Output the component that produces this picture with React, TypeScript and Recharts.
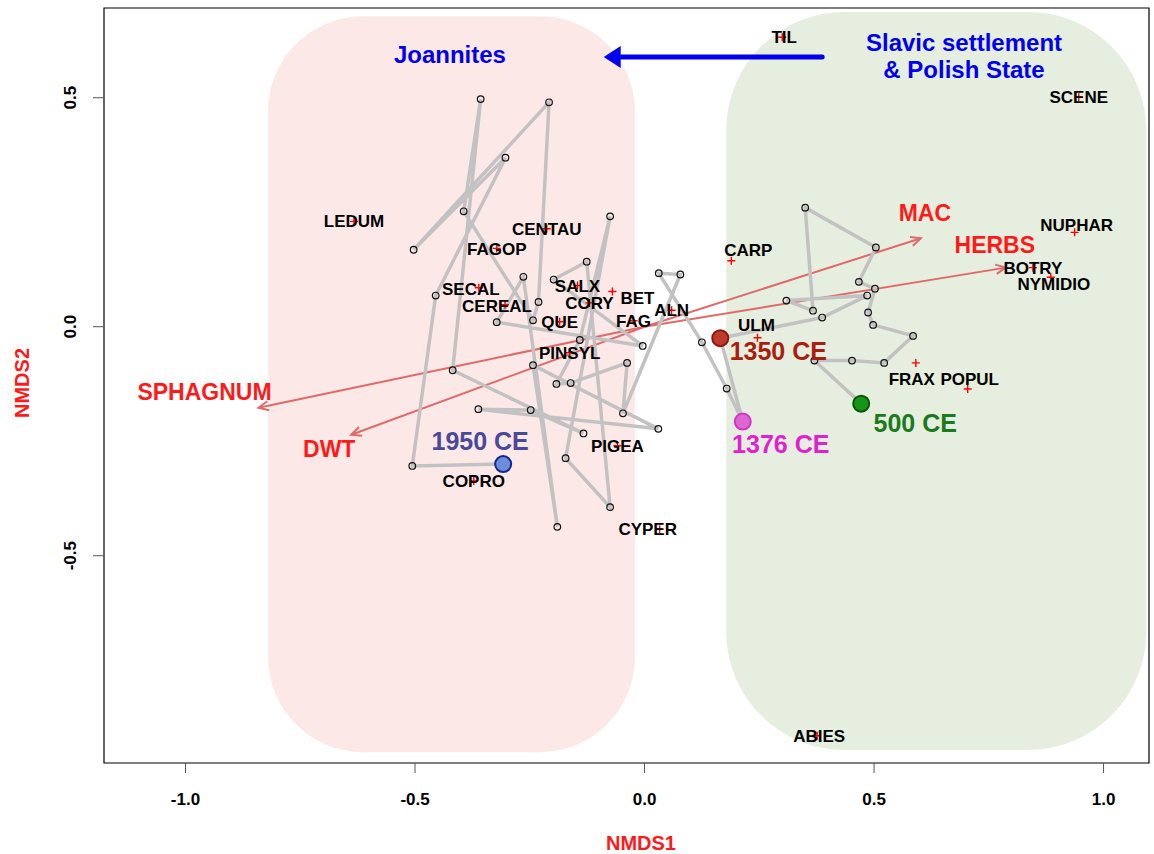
import { ScatterChart, Scatter, XAxis, YAxis, ReferenceArea, ReferenceLine } from 'recharts'

const xTicks = [-1.0, -0.5, 0.0, 0.5, 1.0]
const yTicks = [-0.5, 0.0, 0.5]
const xDomain: [number, number] = [-1.1776, 1.099]
const yDomain: [number, number] = [-0.9526, 0.6959]

// site scores in time order, 500 CE -> 1950 CE
const trajectory: [number, number][] = [
  [0.472, -0.168], [0.370, -0.074], [0.452, -0.074], [0.522, -0.079], [0.585, -0.020],
  [0.498, 0.004], [0.487, 0.031], [0.502, 0.083], [0.467, 0.098], [0.504, 0.173],
  [0.350, 0.260], [0.367, 0.035], [0.309, 0.057], [0.485, 0.068], [0.387, 0.020],
  [0.165, -0.025], [0.214, -0.207], [0.179, -0.135], [0.125, -0.034], [0.031, 0.117],
  [0.078, 0.114], [-0.047, -0.189], [-0.038, -0.079], [-0.161, -0.123], [-0.192, -0.125],
  [-0.141, -0.029], [-0.075, 0.241], [-0.172, -0.287], [-0.075, -0.394], [-0.126, 0.142],
  [-0.198, 0.103], [-0.004, -0.042], [-0.322, 0.010], [-0.264, 0.109], [-0.190, -0.437],
  [-0.243, -0.084], [0.030, -0.223], [-0.362, -0.180], [-0.248, -0.182], [-0.133, -0.233],
  [-0.418, -0.095], [-0.357, 0.497], [-0.394, 0.252], [-0.243, 0.014], [-0.231, 0.054],
  [-0.208, 0.490], [-0.503, 0.168], [-0.303, 0.369], [-0.455, 0.068], [-0.506, -0.304],
  [-0.308, -0.300],
]

const events = [
  { name: '500 CE', x: 0.472, y: -0.168 },
  { name: '1350 CE', x: 0.165, y: -0.025 },
  { name: '1376 CE', x: 0.214, y: -0.207 },
  { name: '1950 CE', x: -0.308, y: -0.300 },
]

const species = [
  { name: 'TIL', x: 0.300, y: 0.632 },
  { name: 'SCENE', x: 0.946, y: 0.501 },
  { name: 'LEDUM', x: -0.633, y: 0.230 },
  { name: 'CENTAU', x: -0.213, y: 0.214 },
  { name: 'FAGOP', x: -0.322, y: 0.171 },
  { name: 'SECAL', x: -0.361, y: 0.085 },
  { name: 'CEREAL', x: -0.304, y: 0.048 },
  { name: 'SALX', x: -0.146, y: 0.090 },
  { name: 'CORY', x: -0.120, y: 0.052 },
  { name: 'BET', x: -0.070, y: 0.077 },
  { name: 'ALN', x: 0.059, y: 0.036 },
  { name: 'FAG', x: -0.024, y: 0.013 },
  { name: 'QUE', x: -0.185, y: 0.011 },
  { name: 'PINSYL', x: -0.163, y: -0.057 },
  { name: 'PIGEA', x: -0.059, y: -0.260 },
  { name: 'COPRO', x: -0.372, y: -0.337 },
  { name: 'CYPER', x: 0.033, y: -0.442 },
  { name: 'CARP', x: 0.189, y: 0.144 },
  { name: 'ULM', x: 0.246, y: -0.024 },
  { name: 'FRAX', x: 0.591, y: -0.079 },
  { name: 'POPUL', x: 0.704, y: -0.136 },
  { name: 'NUPHAR', x: 0.937, y: 0.206 },
  { name: 'BOTRY', x: 0.846, y: 0.129 },
  { name: 'NYMIDIO', x: 0.885, y: 0.108 },
  { name: 'ABIES', x: 0.376, y: -0.893 },
]

// fitted environmental vectors
const envVectors = [
  { name: 'MAC', x: 0.602, y: 0.193 },
  { name: 'HERBS', x: 0.787, y: 0.129 },
  { name: 'SPHAGNUM', x: -0.841, y: -0.177 },
  { name: 'DWT', x: -0.639, y: -0.236 },
]

const periods = [
  { name: 'Joannites', x1: -0.820, x2: -0.021, y1: -0.929, y2: 0.678 },
  { name: 'Slavic settlement & Polish State', x1: 0.178, x2: 1.093, y1: -0.924, y2: 0.687 },
]

const notes = [
  { text: 'Joannites', x: -0.424, y: 0.595 },
  { text: 'Slavic settlement', x: 0.696, y: 0.621 },
  { text: '& Polish State', x: 0.696, y: 0.562 },
]
const transitionArrow = [{ x: 0.387, y: 0.589 }, { x: -0.089, y: 0.589 }]

const FONT = '"Liberation Sans", Arial, Helvetica, sans-serif'
const periodFill = ['#fce9e7', '#e6eedf']
const periodRadius = [95, 118]

const speciesOffset: Record<string, [number, number]> = {
  TIL: [2, 0], CARP: [17, -11], ULM: [-1, -13], FRAX: [-4, 16], POPUL: [2, -10],
  NUPHAR: [2, -7], NYMIDIO: [3, 7], CYPER: [-12, 0], SECAL: [-8, 1], CEREAL: [-8, 1],
  BET: [25, 6], ABIES: [2, 0],
}
const vectorOffset: Record<string, [number, number]> = {
  MAC: [4, -26], HERBS: [-11, -23], SPHAGNUM: [-54, -16], DWT: [-22, 14],
}
const eventStyle: Record<string, { fill: string; stroke: string; text: string; dx: number; dy: number }> = {
  '500 CE': { fill: '#169616', stroke: '#075807', text: '#1b7a1b', dx: 54, dy: 19 },
  '1350 CE': { fill: '#bf3a2c', stroke: '#8a1a10', text: '#a81f10', dx: 58, dy: 13 },
  '1376 CE': { fill: '#dc66d2', stroke: '#d633c8', text: '#e021d0', dx: 38, dy: 22 },
  '1950 CE': { fill: '#6a8edc', stroke: '#16268a', text: '#4a4898', dx: -23, dy: -23 },
}

const XTick = ({ x, y, payload }: any) => (
  <text x={x} y={y + 32} textAnchor="middle" fontFamily={FONT} fontWeight="bold" fontSize={17} fill="#000">
    {payload.value.toFixed(1)}
  </text>
)

const YTick = ({ x, y, payload }: any) => (
  <text x={x - 17} y={y} transform={`rotate(-90, ${x - 17}, ${y})`} textAnchor="middle"
    fontFamily={FONT} fontWeight="bold" fontSize={17} fill="#000">
    {payload.value.toFixed(1)}
  </text>
)

const vectorShape = (p: any) => {
  const a = Math.atan2(p.y2 - p.y1, p.x2 - p.x1)
  const L = 11
  const t = (25 * Math.PI) / 180
  const h1 = [p.x2 - L * Math.cos(a - t), p.y2 - L * Math.sin(a - t)]
  const h2 = [p.x2 - L * Math.cos(a + t), p.y2 - L * Math.sin(a + t)]
  return (
    <g>
      <line x1={p.x1} y1={p.y1} x2={p.x2} y2={p.y2} stroke="#e06a6a" strokeWidth={2} />
      <path d={`M${h1[0]},${h1[1]} L${p.x2},${p.y2} L${h2[0]},${h2[1]}`} fill="none" stroke="#e06a6a" strokeWidth={2} />
    </g>
  )
}

const blueArrowShape = (p: any) => {
  const head = 17
  return (
    <g>
      <line x1={p.x1} y1={p.y1} x2={p.x2 + head} y2={p.y2} stroke="#0000ee" strokeWidth={5} strokeLinecap="round" />
      <polygon points={`${p.x2},${p.y2} ${p.x2 + head},${p.y2 - 11} ${p.x2 + head},${p.y2 + 11}`} fill="#0000ee" />
    </g>
  )
}

export default function App() {
  const pathData = trajectory.map(([x, y]) => ({ x, y }))

  return (
    <div style={{ position: 'absolute', left: 0, top: 0, width: 1154, height: 854 }}>
      <ScatterChart width={1154} height={854} margin={{ top: 8, right: 5, bottom: 41, left: 40 }}>
        <XAxis type="number" dataKey="x" domain={xDomain} ticks={xTicks} allowDataOverflow
          axisLine={false} tickLine={{ stroke: '#555' }} tickSize={10} tickMargin={0} height={50} tick={<XTick />} />
        <YAxis type="number" dataKey="y" domain={yDomain} ticks={yTicks} allowDataOverflow
          axisLine={false} tickLine={{ stroke: '#555' }} tickSize={11} tickMargin={0} width={64} tick={<YTick />} />

        {periods.map((p, i) => (
          <ReferenceArea key={p.name} x1={p.x1} x2={p.x2} y1={p.y1} y2={p.y2}
            shape={(r: any) => (
              <rect x={r.x} y={r.y} width={r.width} height={r.height} rx={periodRadius[i]} ry={periodRadius[i]}
                fill={periodFill[i]} stroke="none" />
            )} />
        ))}

        <Scatter data={pathData} isAnimationActive={false}
          line={{ stroke: '#c2c2c2', strokeWidth: 3.5 }} lineType="joint"
          shape={(p: any) => <circle cx={p.cx} cy={p.cy} r={3.3} fill="none" stroke="#111" strokeWidth={1.2} />} />

        {envVectors.map(v => (
          <ReferenceLine key={v.name} segment={[{ x: 0, y: 0 }, { x: v.x, y: v.y }]} shape={vectorShape} />
        ))}

        <ReferenceLine segment={transitionArrow} shape={blueArrowShape} />

        <Scatter data={species} isAnimationActive={false}
          shape={(p: any) => {
            const [dx, dy] = speciesOffset[p.payload.name] ?? [0, 0]
            return (
              <g>
                <path d={`M${p.cx - 4},${p.cy} H${p.cx + 4} M${p.cx},${p.cy - 4} V${p.cy + 4}`} stroke="#ff0000" strokeWidth={1.4} />
                <text x={p.cx + dx} y={p.cy + dy} dy="0.36em" textAnchor="middle" fontFamily={FONT}
                  fontWeight="bold" fontSize={17} fill="#000">{p.payload.name}</text>
              </g>
            )
          }} />

        <Scatter data={envVectors} isAnimationActive={false}
          shape={(p: any) => {
            const [dx, dy] = vectorOffset[p.payload.name]
            return (
              <text x={p.cx + dx} y={p.cy + dy} dy="0.36em" textAnchor="middle" fontFamily={FONT}
                fontWeight="bold" fontSize={23} fill="#ff1a1a">{p.payload.name}</text>
            )
          }} />

        <Scatter data={events} isAnimationActive={false}
          shape={(p: any) => {
            const s = eventStyle[p.payload.name]
            return (
              <g>
                <circle cx={p.cx} cy={p.cy} r={8} fill={s.fill} stroke={s.stroke} strokeWidth={2} />
                <text x={p.cx + s.dx} y={p.cy + s.dy} dy="0.36em" textAnchor="middle" fontFamily={FONT}
                  fontWeight="bold" fontSize={25} fill={s.text}>{p.payload.name}</text>
              </g>
            )
          }} />

        <Scatter data={notes} isAnimationActive={false}
          shape={(p: any) => (
            <text x={p.cx} y={p.cy} dy="0.36em" textAnchor="middle" fontFamily={FONT}
              fontWeight="bold" fontSize={24} fill="#0000ee">{p.payload.text}</text>
          )} />

        <ReferenceArea x1={xDomain[0]} x2={xDomain[1]} y1={yDomain[0]} y2={yDomain[1]}
          fill="none" stroke="#000" strokeWidth={1.2} fillOpacity={0} />
      </ScatterChart>
      <svg width={1154} height={854} style={{ position: 'absolute', left: 0, top: 0, pointerEvents: 'none' }}>
        <text x={641} y={850} textAnchor="middle" fontFamily={FONT} fontWeight="bold" fontSize={20} fill="#ff1a1a">NMDS1</text>
        <text x={29} y={383} transform="rotate(-90, 29, 383)" textAnchor="middle" fontFamily={FONT}
          fontWeight="bold" fontSize={20} fill="#ff1a1a">NMDS2</text>
      </svg>
    </div>
  )
}
